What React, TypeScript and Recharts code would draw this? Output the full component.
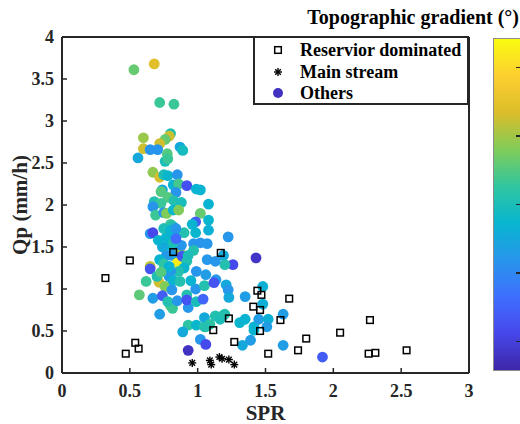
import { ScatterChart, Scatter, XAxis, YAxis } from "recharts";

const xTicks = [0, 0.5, 1, 1.5, 2, 2.5, 3];
const yTicks = [0, 0.5, 1, 1.5, 2, 2.5, 3, 3.5, 4];

// Reservior dominated (open squares)
const resX = [0.32, 0.5, 0.47, 0.54, 0.565, 0.82, 1.17, 1.115, 1.23, 1.27, 1.41, 1.44, 1.47, 1.46, 1.46, 1.52, 1.61, 1.675, 1.74, 1.8, 2.05, 2.26, 2.31, 2.54, 2.27];
const resY = [1.13, 1.34, 0.23, 0.36, 0.29, 1.44, 1.43, 0.51, 0.65, 0.37, 0.79, 0.98, 0.93, 0.75, 0.5, 0.23, 0.63, 0.885, 0.27, 0.41, 0.48, 0.23, 0.24, 0.27, 0.63];

// Main stream (asterisks)
const mainX = [0.96, 1.09, 1.1, 1.16, 1.18, 1.23, 1.27];
const mainY = [0.12, 0.15, 0.1, 0.19, 0.17, 0.16, 0.1];

// Others, coloured by topographic gradient (degrees)
const othX = [
  0.53, 0.68, 0.72, 0.825, 0.6, 0.8, 0.79, 0.76, 0.72, 0.6, 0.65, 0.705, 0.87, 0.89, 0.56, 0.776,
  0.76, 0.78, 0.67, 0.72, 0.75, 0.78, 0.85, 0.82, 0.86, 0.92, 0.84, 0.74, 0.73, 0.99, 1.02, 0.78,
  0.68, 0.73, 0.825, 0.88, 0.67, 0.69, 0.75, 0.77, 0.82, 0.86, 1.02, 1.08, 1.08, 0.985, 0.96, 0.8,
  0.815, 0.65, 0.67, 0.8, 0.77, 0.845, 0.9, 0.985, 0.97, 1.02, 1.07, 1.07, 0.97, 0.83, 0.87, 0.77,
  0.81, 0.85, 0.885, 0.92, 0.9, 0.86, 0.8, 0.99, 1.06, 0.65, 0.65, 0.715, 0.62, 0.76, 0.7, 0.79,
  0.82, 0.87, 0.81, 0.57, 0.67, 0.74, 0.92, 0.985, 1.05, 0.72, 0.8, 0.815, 0.78, 0.85, 0.93, 0.92,
  0.99, 1.04, 0.93, 0.99, 1.05, 0.89, 1.02, 1.06, 0.93, 1.225, 1.43, 1.26, 1.19, 1.2, 1.13, 1.135,
  1.12, 1.21, 1.225, 1.23, 1.35, 1.48, 1.48, 1.63, 1.05, 1.13, 1.19, 1.09, 1.06, 1.165, 1.31, 1.35,
  1.415, 1.45, 1.52, 1.51, 1.63, 1.33, 1.39, 1.08, 1.2, 1.415, 1.92, 0.75, 0.8, 0.84, 0.78, 0.74,
  0.88, 0.82, 0.72, 0.75, 0.79, 0.93, 0.95, 0.73, 0.84, 0.71,
];
const othY = [
  3.61, 3.68, 3.22, 3.2, 2.8, 2.85, 2.82, 2.78, 2.73, 2.67, 2.66, 2.66, 2.69, 2.65, 2.56, 2.61,
  2.52, 2.55, 2.39, 2.33, 2.36, 2.35, 2.36, 2.24, 2.25, 2.23, 2.15, 2.18, 2.16, 2.19, 2.18, 2.09,
  2.04, 2.02, 2.05, 2.03, 1.98, 1.88, 1.91, 1.9, 1.94, 1.94, 1.9, 2.01, 1.82, 1.8, 1.77, 1.77,
  1.75, 1.66, 1.67, 1.58, 1.62, 1.64, 1.67, 1.67, 1.54, 1.55, 1.54, 1.35, 1.46, 1.46, 1.43, 1.4,
  1.4, 1.31, 1.39, 1.33, 1.25, 1.21, 1.21, 1.21, 1.17, 1.27, 1.24, 1.08, 1.09, 1.03, 1.15, 1.15,
  1.1, 1.09, 0.99, 0.93, 0.89, 0.92, 0.93, 1.0, 1.04, 0.7, 0.8, 0.77, 0.85, 0.86, 0.78, 0.87,
  0.85, 0.88, 0.57, 0.57, 0.55, 0.49, 0.4, 0.34, 0.27, 1.62, 1.37, 1.29, 1.4, 1.29, 1.33, 1.11,
  1.075, 1.05, 0.99, 0.9, 0.91, 1.03, 0.82, 0.7, 0.66, 0.68, 0.69, 0.58, 0.55, 0.64, 0.6, 0.64,
  0.55, 0.64, 0.64, 0.55, 0.33, 0.33, 0.39, 1.7, 0.7, 0.51, 0.19, 1.72, 1.7, 1.72, 1.52, 1.5,
  1.52, 1.55, 1.35, 1.3, 1.27, 1.4, 1.1, 1.2, 1.6, 1.58,
];
const othG = [
  18.1, 22.0, 16.6, 16.6, 19.8, 15.4, 21.3, 18.1, 21.3, 21.3, 10.8, 10.8, 12.5, 14.5, 12.5, 17.5,
  15.0, 16.6, 19.5, 21.5, 15.0, 13.7, 10.8, 13.5, 17.0, 6.0, 10.8, 12.5, 17.5, 13.5, 13.5, 17.5,
  15.4, 16.6, 15.4, 14.8, 10.8, 16.6, 10.8, 19.0, 13.7, 19.0, 18.1, 13.5, 13.7, 7.0, 13.5, 16.6,
  15.4, 10.8, 5.5, 10.8, 13.5, 12.5, 15.4, 13.7, 10.8, 10.8, 11.0, 11.0, 15.4, 10.8, 20.3, 10.8,
  11.5, 26.4, 6.4, 15.4, 13.7, 15.4, 10.8, 10.8, 11.5, 20.8, 6.4, 21.3, 16.6, 19.0, 15.4, 11.5,
  13.5, 15.4, 11.0, 17.8, 11.5, 7.0, 15.4, 11.0, 15.4, 11.5, 17.5, 16.6, 15.4, 11.0, 11.0, 6.4,
  14.8, 7.5, 16.0, 13.7, 16.0, 12.5, 11.0, 5.7, 3.8, 11.0, 4.0, 5.7, 12.5, 15.4, 11.0, 11.0,
  6.4, 12.5, 11.0, 12.5, 11.5, 13.2, 13.2, 11.5, 12.5, 15.4, 15.4, 16.0, 15.4, 15.0, 13.7, 13.5,
  13.5, 11.5, 13.2, 11.5, 11.5, 12.5, 11.5, 13.2, 15.4, 13.5, 7.0, 15.0, 13.5, 11.0, 13.7, 12.5,
  11.0, 15.0, 13.5, 16.0, 13.5, 15.0, 13.5, 17.5, 8.0, 13.5,
];

const gradMin = 2.8;
const gradMax = 27.1;
const cbTicks = [5, 10, 15, 20, 25];

const legendNames = ["Reservior dominated", "Main stream", "Others"];

const parula = [
  [62, 38, 168],
  [71, 71, 235],
  [62, 111, 255],
  [39, 150, 235],
  [8, 181, 208],
  [49, 198, 159],
  [128, 204, 89],
  [220, 189, 41],
  [252, 207, 48],
  [249, 251, 14],
];

function gradColor(g: number) {
  let t = (g - gradMin) / (gradMax - gradMin);
  t = Math.max(0, Math.min(1, t));
  const p = t * (parula.length - 1);
  const i = Math.min(parula.length - 2, Math.floor(p));
  const f = p - i;
  const a = parula[i];
  const b = parula[i + 1];
  const c = a.map((v, k) => Math.round(v + (b[k] - v) * f));
  return `rgb(${c[0]},${c[1]},${c[2]})`;
}

const resData = resX.map((x, i) => ({ x, y: resY[i] }));
const mainData = mainX.map((x, i) => ({ x, y: mainY[i] }));
const othData = othX.map((x, i) => ({ x, y: othY[i], g: othG[i] }));

const FONT = "'Times New Roman', 'Liberation Serif', serif";
const INK = "#262626";

function Dot(p: any) {
  return <circle cx={p.cx} cy={p.cy} r={5.4} fill={gradColor(p.payload.g)} />;
}

function Sq(p: any) {
  return <rect x={p.cx - 3.3} y={p.cy - 3.3} width={6.6} height={6.6} fill="none" stroke="#000" strokeWidth={1.5} />;
}

function Star(p: any) {
  const r = 4;
  const d = r * 0.7071;
  return (
    <g stroke="#000" strokeWidth={1.4}>
      <line x1={p.cx - r} y1={p.cy} x2={p.cx + r} y2={p.cy} />
      <line x1={p.cx} y1={p.cy - r} x2={p.cx} y2={p.cy + r} />
      <line x1={p.cx - d} y1={p.cy - d} x2={p.cx + d} y2={p.cy + d} />
      <line x1={p.cx - d} y1={p.cy + d} x2={p.cx + d} y2={p.cy - d} />
    </g>
  );
}

const tickStyle = { fill: INK, fontSize: 18, fontWeight: 700, fontFamily: FONT };
const labelStyle = { fill: INK, fontSize: 21, fontWeight: 700, fontFamily: FONT };
const axisLine = { stroke: INK, strokeWidth: 2 };
const tickLine = { stroke: INK, strokeWidth: 1.5 };

function LegendMarker({ i }: { i: number }) {
  const c = 8;
  return (
    <svg width={16} height={16} style={{ position: "absolute", left: 15, top: -8 }}>
      {i === 0 && <Sq cx={c} cy={c} />}
      {i === 1 && <Star cx={c} cy={c} />}
      {i === 2 && <circle cx={c} cy={c} r={5} fill={gradColor(3.8)} />}
    </svg>
  );
}

export default function App() {
  const cbTop = 38;
  const cbHeight = 333;
  const stops = parula
    .map((c, i) => `rgb(${c[0]},${c[1]},${c[2]}) ${(i / (parula.length - 1)) * 100}%`)
    .join(", ");
  return (
    <div style={{ position: "absolute", left: 0, top: 0, width: 520, height: 424, overflow: "hidden", background: "#fff", fontFamily: FONT }}>
      <ScatterChart width={520} height={424} margin={{ top: 36, right: 50, bottom: 0, left: 0 }}>
        <XAxis
          xAxisId="b"
          type="number"
          dataKey="x"
          domain={[0, 3]}
          ticks={xTicks}
          allowDataOverflow
          height={51}
          tick={tickStyle}
          tickSize={-5}
          tickMargin={16}
          axisLine={axisLine}
          tickLine={tickLine}
          label={{ value: "SPR", position: "insideBottom", offset: 4, style: labelStyle }}
        />
        <XAxis
          xAxisId="t"
          orientation="top"
          type="number"
          dataKey="x"
          domain={[0, 3]}
          ticks={xTicks}
          allowDataOverflow
          height={1}
          tick={false}
          tickSize={-5}
          axisLine={axisLine}
          tickLine={tickLine}
        />
        <YAxis
          yAxisId="l"
          type="number"
          dataKey="y"
          domain={[0, 4]}
          ticks={yTicks}
          allowDataOverflow
          width={62}
          tick={tickStyle}
          tickSize={-5}
          tickMargin={13}
          axisLine={axisLine}
          tickLine={tickLine}
          label={{ value: "Qp (mm/h)", angle: -90, position: "insideLeft", offset: 20, textAnchor: "middle", style: labelStyle }}
        />
        <YAxis
          yAxisId="r"
          orientation="right"
          type="number"
          dataKey="y"
          domain={[0, 4]}
          ticks={yTicks}
          allowDataOverflow
          width={1}
          tick={false}
          tickSize={-5}
          axisLine={axisLine}
          tickLine={tickLine}
        />
        <Scatter name="Others" data={othData} xAxisId="b" yAxisId="l" shape={Dot} isAnimationActive={false} />
        <Scatter name="Reservior dominated" data={resData} xAxisId="b" yAxisId="l" shape={Sq} isAnimationActive={false} />
        <Scatter name="Main stream" data={mainData} xAxisId="b" yAxisId="l" shape={Star} isAnimationActive={false} />
      </ScatterChart>

      <div
        style={{
          position: "absolute",
          left: 253,
          top: 36,
          width: 216,
          height: 69,
          boxSizing: "border-box",
          border: `2px solid ${INK}`,
          background: "#fff",
        }}
      >
        {legendNames.map((n, i) => (
          <div key={n} style={{ position: "absolute", left: 0, top: 12 + i * 21.5, height: 0 }}>
            <LegendMarker i={i} />
            <div style={{ position: "absolute", left: 45, top: -10, fontSize: 18, fontWeight: 700, lineHeight: "20px", whiteSpace: "nowrap", color: "#000" }}>
              {n}
            </div>
          </div>
        ))}
      </div>

      <div
        style={{
          position: "absolute",
          right: 1,
          top: 7,
          fontSize: 20,
          fontWeight: 700,
          lineHeight: "20px",
          whiteSpace: "nowrap",
          color: "#000",
        }}
      >
        Topographic gradient (°)
      </div>

      <div
        style={{
          position: "absolute",
          left: 493,
          top: cbTop,
          width: 40,
          height: cbHeight,
          boxSizing: "border-box",
          border: "1px solid #8c8c8c",
          background: `linear-gradient(to top, ${stops})`,
        }}
      />
      {cbTicks.map((v) => (
        <div
          key={v}
          style={{
            position: "absolute",
            left: 516,
            width: 4,
            height: 1.5,
            background: INK,
            top: cbTop + cbHeight - ((v - gradMin) / (gradMax - gradMin)) * cbHeight,
          }}
        />
      ))}
    </div>
  );
}
